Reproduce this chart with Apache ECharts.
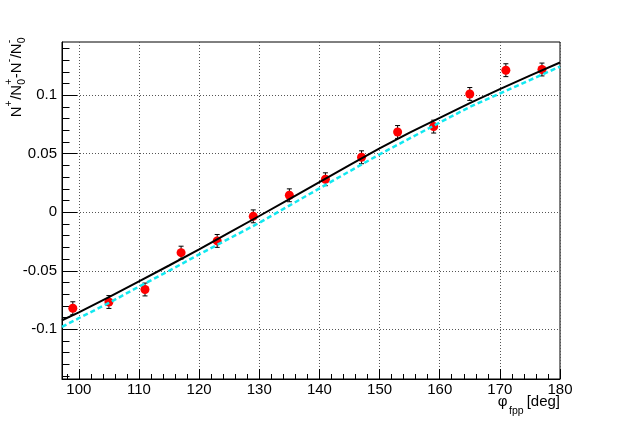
<!DOCTYPE html>
<html>
<head>
<meta charset="utf-8">
<script src="https://cdn.jsdelivr.net/npm/echarts@6/dist/echarts.min.js"></script>
<style>
html,body{margin:0;padding:0;background:#fff;}
#chart{width:623px;height:422px;}
</style>
</head>
<body>
<div id="chart"></div>
<script>
// ---- data ----
const phi   = [99, 105, 111, 117, 123, 129, 135, 141, 147, 153, 159, 165, 171, 177];
const asym  = [-0.0820, -0.0767, -0.0660, -0.0345, -0.0245, -0.0035, 0.0145, 0.0282, 0.0470, 0.0686, 0.0732, 0.1011, 0.1214, 0.1220];
const errs  = [0.0055, 0.0055, 0.0055, 0.0055, 0.0055, 0.0055, 0.0055, 0.0055, 0.0055, 0.0055, 0.0055, 0.0055, 0.0055, 0.0055];

const fitPhi   = [97.2, 100, 105, 110, 115, 120, 125, 130, 135, 140, 145, 150, 155, 160, 165, 170, 175, 180];
const fitBlack = [-0.0923, -0.0855, -0.0725, -0.0590, -0.0455, -0.0318, -0.0175, -0.0032, 0.0113, 0.0258, 0.0403, 0.0545, 0.0680, 0.0807, 0.0932, 0.1053, 0.1168, 0.1280];
const fitCyan  = [-0.0980, -0.0905, -0.0775, -0.0635, -0.0500, -0.0360, -0.0225, -0.0090, 0.0057, 0.0204, 0.0350, 0.0495, 0.0631, 0.0767, 0.0900, 0.1015, 0.1130, 0.1245];

const xTicks = [100, 110, 120, 130, 140, 150, 160, 170, 180];
const yTicks = [-0.1, -0.05, 0, 0.05, 0.1];
const yTickLabels = ['-0.1', '-0.05', '0', '0.05', '0.1'];

const yTitle = [{t:'N'},{sup:'+'},{t:'/'},{t:'N'},{sub:'0',sup:'+'},{t:'-'},{t:'N'},{sup:'-'},{t:'/'},{t:'N'},{sub:'0',sup:'-'}];
const xTitle = {sym:'φ', sub:'fpp', rest:'[deg]'};

// ---- layout ----
const FONT = '"Liberation Sans", Arial, Helvetica, sans-serif';
const xMin = 97.2, xMax = 180, yMin = -0.1425, yMax = 0.1455;
const xMinor = []; for (let v = 98; v <= 180; v += 2) xMinor.push(v);
const yMinor = []; for (let k = -14; k <= 14; k++) yMinor.push(k / 100);

const cv = document.createElement('canvas').getContext('2d');
function tw(text, size){ cv.font = size + 'px ' + FONT; return cv.measureText(text).width; }

const MAIN = 15, SMALL = 10.5;
// y title (rotated)
const yChildren = [];
let lx = 0;
yTitle.forEach(p => {
  if (p.t !== undefined) {
    yChildren.push({type:'text', x:lx, y:0, style:{text:p.t, font: MAIN+'px '+FONT, fill:'#000', textAlign:'left', textVerticalAlign:'middle', align:'left', verticalAlign:'middle'}});
    lx += tw(p.t, MAIN);
  } else {
    let w = 0;
    if (p.sup) { yChildren.push({type:'text', x:lx, y:-7.5, style:{text:p.sup, font: SMALL+'px '+FONT, fill:'#000', textAlign:'left', textVerticalAlign:'middle', align:'left', verticalAlign:'middle'}}); w = Math.max(w, tw(p.sup, SMALL)); }
    if (p.sub) { yChildren.push({type:'text', x:lx, y:6, style:{text:p.sub, font: SMALL+'px '+FONT, fill:'#000', textAlign:'left', textVerticalAlign:'middle', align:'left', verticalAlign:'middle'}}); w = Math.max(w, tw(p.sub, SMALL)); }
    lx += w + 0.5;
  }
});
const yTitleLen = lx;

// x title
const restW = tw(xTitle.rest, MAIN);
const subRight = 560 - restW - 3;
const subW = tw(xTitle.sub, SMALL);
const symRight = subRight - subW - 1.5;

const chart = echarts.init(document.getElementById('chart'), null, {renderer:'canvas'});

const tickStyle = {color:'#000', width:1};
const option = {
  animation: false,
  backgroundColor: '#fff',
  textStyle: {fontFamily: FONT},
  grid: {left:62, right:63, top:42, bottom:43, containLabel:false, outerBoundsMode:'none',
         show:true, borderColor:'#000', borderWidth:1, backgroundColor:'transparent'},
  xAxis: [
    {type:'value', min:xMin, max:xMax, minInterval:10, maxInterval:10, position:'bottom',
     axisLine:{show:true, onZero:false, lineStyle:{color:'#000', width:1}},
     axisTick:{show:true, inside:true, length:10, customValues:xTicks, lineStyle:tickStyle},
     axisLabel:{show:true, customValues:xTicks, fontSize:15, color:'#000', fontFamily:FONT, margin:3,
                formatter: v => String(v)},
     splitLine:{show:true, lineStyle:{color:'#555', width:1, type:[1,2]}}},
    {type:'value', min:xMin, max:xMax, position:'bottom',
     axisLine:{show:false, onZero:false},
     axisTick:{show:true, inside:true, length:5, customValues:xMinor, lineStyle:tickStyle},
     axisLabel:{show:false}, splitLine:{show:false}}
  ],
  yAxis: [
    {type:'value', min:yMin, max:yMax, minInterval:0.05, maxInterval:0.05, position:'left',
     axisLine:{show:true, onZero:false, lineStyle:{color:'#000', width:1}},
     axisTick:{show:true, inside:true, length:15, customValues:yTicks, lineStyle:tickStyle},
     axisLabel:{show:true, customValues:yTicks, fontSize:15, color:'#000', fontFamily:FONT, margin:5,
                formatter: v => { const i = yTicks.findIndex(t => Math.abs(t - v) < 1e-9); return i >= 0 ? yTickLabels[i] : ''; }},
     splitLine:{show:true, lineStyle:{color:'#555', width:1, type:[1,2]}}},
    {type:'value', min:yMin, max:yMax, position:'left',
     axisLine:{show:false, onZero:false},
     axisTick:{show:true, inside:true, length:7.5, customValues:yMinor, lineStyle:tickStyle},
     axisLabel:{show:false}, splitLine:{show:false}}
  ],
  series: [
    {type:'custom', xAxisIndex:0, yAxisIndex:0, z:3,
     data: phi.map((p,i) => [p, asym[i], errs[i]]),
     encode:{x:0, y:1},
     renderItem: function(params, api){
       const x = api.value(0), y = api.value(1), e = api.value(2);
       const t = api.coord([x, y + e]), b = api.coord([x, y - e]);
       const cw = 2.5, st = {stroke:'#000', lineWidth:1};
       return {type:'group', children:[
         {type:'line', shape:{x1:t[0], y1:t[1], x2:b[0], y2:b[1]}, style:st},
         {type:'line', shape:{x1:t[0]-cw, y1:t[1], x2:t[0]+cw, y2:t[1]}, style:st},
         {type:'line', shape:{x1:b[0]-cw, y1:b[1], x2:b[0]+cw, y2:b[1]}, style:st}
       ]};
     }},
    {type:'scatter', xAxisIndex:0, yAxisIndex:0, z:4,
     data: phi.map((p,i) => [p, asym[i]]),
     symbol:'circle', symbolSize:9, itemStyle:{color:'#ff0000', opacity:1}},
    {type:'line', xAxisIndex:0, yAxisIndex:0, z:5,
     data: fitPhi.map((p,i) => [p, fitCyan[i]]),
     showSymbol:false, symbol:'none', smooth:false,
     lineStyle:{color:'#12e8f0', width:2.5, type:[5,3]}},
    {type:'line', xAxisIndex:0, yAxisIndex:0, z:6,
     data: fitPhi.map((p,i) => [p, fitBlack[i]]),
     showSymbol:false, symbol:'none', smooth:false,
     lineStyle:{color:'#000', width:2}}
  ],
  graphic: [
    {type:'group', x:16.5, y:37 + yTitleLen, rotation:Math.PI/2, children:yChildren},
    {type:'text', x:560, y:402, style:{text:xTitle.rest, font:MAIN+'px '+FONT, fill:'#000', textAlign:'right', textVerticalAlign:'middle', align:'right', verticalAlign:'middle'}},
    {type:'text', x:subRight, y:411, style:{text:xTitle.sub, font:SMALL+'px '+FONT, fill:'#000', textAlign:'right', textVerticalAlign:'middle', align:'right', verticalAlign:'middle'}},
    {type:'text', x:symRight, y:402, style:{text:xTitle.sym, font:MAIN+'px '+FONT, fill:'#000', textAlign:'right', textVerticalAlign:'middle', align:'right', verticalAlign:'middle'}}
  ]
};
chart.setOption(option);
</script>
</body>
</html>
